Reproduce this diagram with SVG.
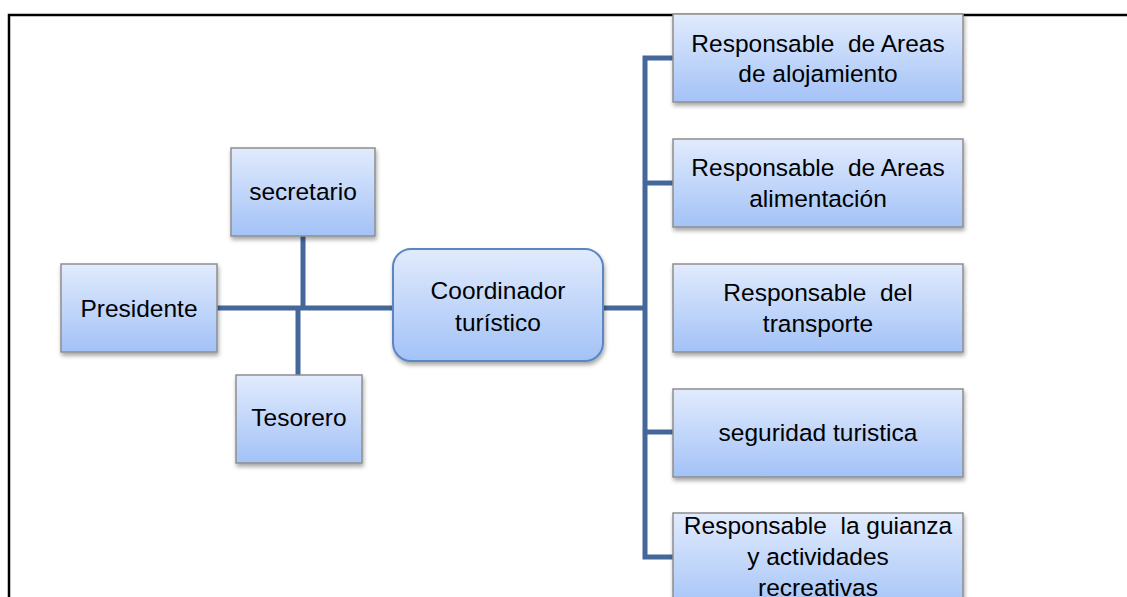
<svg xmlns="http://www.w3.org/2000/svg" width="1127" height="597" viewBox="0 0 1127 597">
<defs>
<linearGradient id="g" x1="0" y1="0" x2="0" y2="1">
<stop offset="0" stop-color="#e1ebfd"/>
<stop offset="1" stop-color="#a3c2f7"/>
</linearGradient>
<filter id="sh" x="-10%" y="-10%" width="130%" height="130%">
<feDropShadow dx="1" dy="3" stdDeviation="2" flood-color="#000" flood-opacity="0.35"/>
</filter>
</defs>
<style>
.box{fill:url(#g);stroke:#8e8e8e;stroke-width:1.5;filter:url(#sh)}
.rbox{fill:url(#g);stroke:#5a86c4;stroke-width:2;filter:url(#sh)}
.c{fill:none;stroke:#44689a;stroke-width:5}
text{font-family:"Liberation Sans",Arial,sans-serif;font-size:24.5px;fill:#000;text-anchor:middle;white-space:pre}
</style>
<rect width="1127" height="597" fill="#fff"/>
<path d="M9 597 V15 H1127" fill="none" stroke="#000" stroke-width="2.5"/>
<g id="connectors">
<path class="c" d="M217 308 H393"/>
<path class="c" d="M303 236 V308"/>
<path class="c" d="M298 308 V375"/>
<path class="c" d="M603 308 H645"/>
<path class="c" d="M673 58 H645 V557 H673"/>
<path class="c" d="M645 183 H673"/>
<path class="c" d="M645 432 H673"/>
</g>
<g id="secretario"><rect class="box" x="231" y="148" width="144" height="88"/><text x="303" y="200">secretario</text></g>
<g id="presidente"><rect class="box" x="61" y="264" width="156" height="88"/><text x="139" y="317">Presidente</text></g>
<g id="tesorero"><rect class="box" x="236" y="375" width="126" height="88"/><text x="299" y="426">Tesorero</text></g>
<g id="coordinador"><rect class="rbox" x="393" y="249" width="210" height="112" rx="18"/><text x="498" y="299">Coordinador</text><text x="498" y="331">turístico</text></g>
<g id="alojamiento"><rect class="box" x="673" y="14" width="290" height="88"/><text x="818" y="52" xml:space="preserve">Responsable  de Areas</text><text x="818" y="82">de alojamiento</text></g>
<g id="alimentacion"><rect class="box" x="673" y="139" width="290" height="88"/><text x="818" y="176" xml:space="preserve">Responsable  de Areas</text><text x="818" y="207">alimentación</text></g>
<g id="transporte"><rect class="box" x="673" y="264" width="290" height="88"/><text x="818" y="301" xml:space="preserve">Responsable  del</text><text x="818" y="332">transporte</text></g>
<g id="seguridad"><rect class="box" x="673" y="389" width="290" height="88"/><text x="818" y="441">seguridad turistica</text></g>
<g id="guianza"><rect class="box" x="673" y="513" width="290" height="100"/><text x="818" y="534" xml:space="preserve">Responsable  la guianza</text><text x="818" y="565">y actividades</text><text x="818" y="596">recreativas</text></g>
</svg>
